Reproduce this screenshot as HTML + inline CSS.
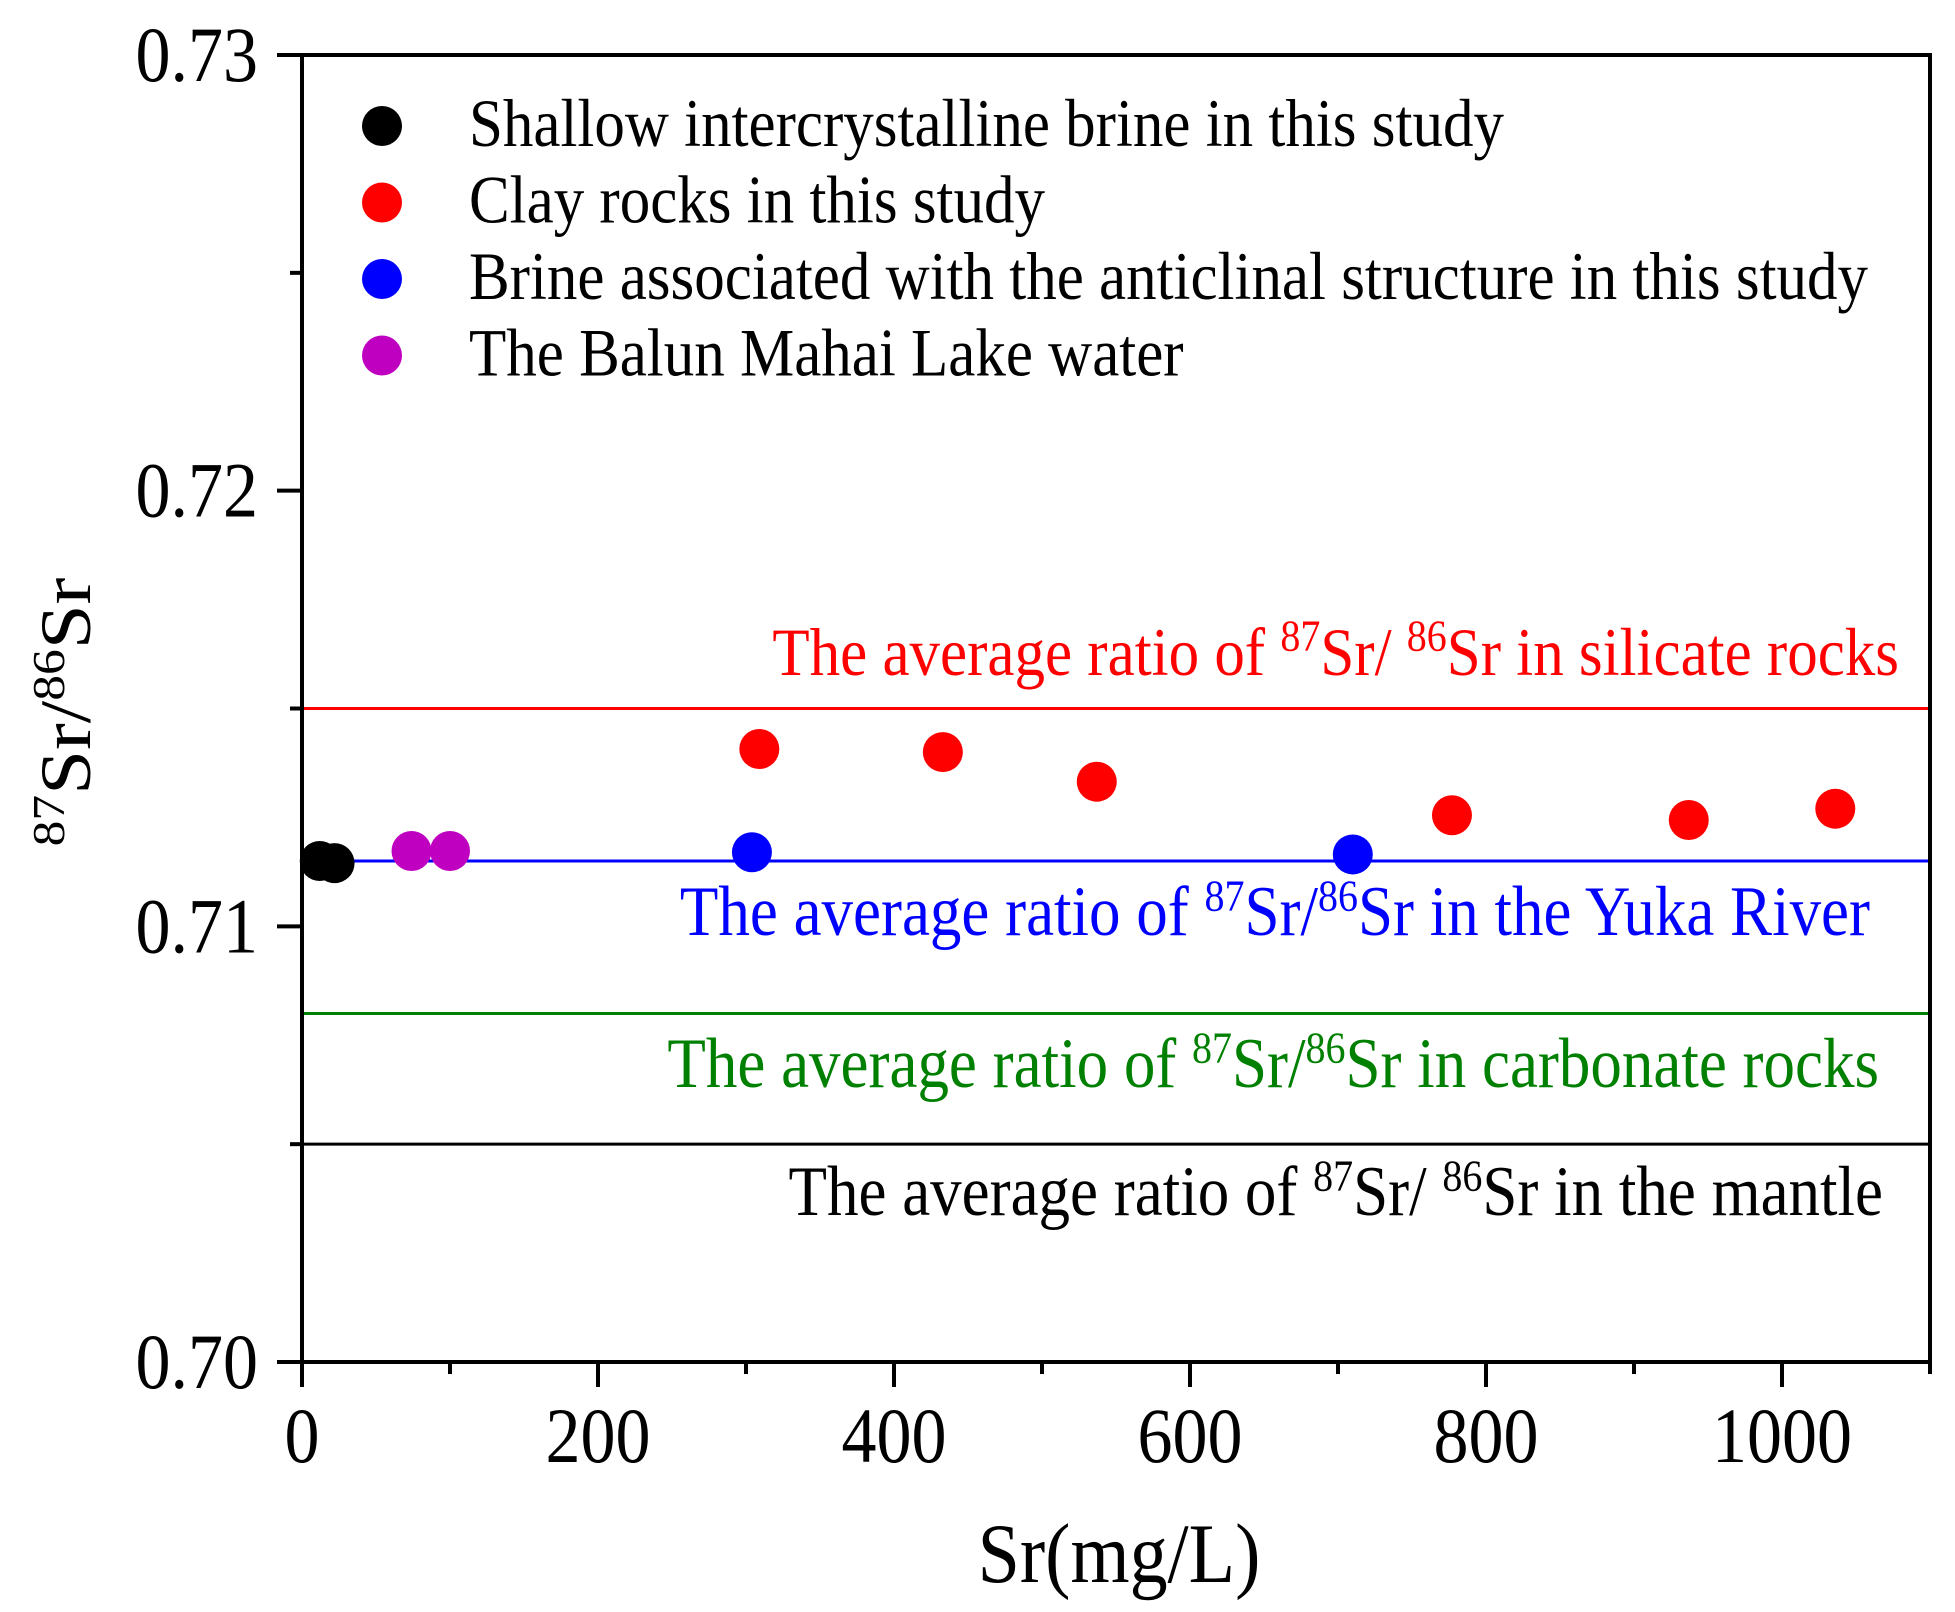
<!DOCTYPE html>
<html><head><meta charset="utf-8"><style>
body{margin:0;background:#fff}
svg{display:block;font-family:"Liberation Serif",serif}
</style></head><body>
<svg id="chart" width="1955" height="1612" viewBox="0 0 1955 1612" xmlns="http://www.w3.org/2000/svg">
<rect width="1955" height="1612" fill="#fff"/>
<g id="lines"></g>
<g id="pts"></g>
<g id="axes"></g>
<g id="legend"></g>
<text transform="translate(90,712) rotate(-90) scale(1.12,1)" text-anchor="middle" font-size="72"><tspan font-size="46" dy="-26">87</tspan><tspan dy="26">Sr/</tspan><tspan font-size="46" dy="-26">86</tspan><tspan dy="26">Sr</tspan></text>
<text transform="translate(1119,1582) scale(1,1.12)" text-anchor="middle" font-size="76">Sr(mg/L)</text>
</svg>
<script>
const blackX=[12,22], blackY=[0.71150,0.71145];
const magX=[74,100], magY=[0.71173,0.71173];
const blueX=[304,710], blueY=[0.71170,0.71165];
const redX=[309,433,537,777,937,1036], redY=[0.71407,0.71400,0.71332,0.71255,0.71244,0.71270];
const refVals=[0.715,0.7115,0.708,0.705];
const refColors=['#ff0000','#0000ff','#008000','#000000'];
const refTexts=['The average ratio of |87|Sr/ |86|Sr in silicate rocks','The average ratio of |87|Sr/|86|Sr in the Yuka River','The average ratio of |87|Sr/|86|Sr in carbonate rocks','The average ratio of |87|Sr/ |86|Sr in the mantle'];
const refTextY=[0.71577,0.70980,0.70631,0.70337];
const refTextRight=[1899,1870,1879,1883];
const xTicks=[0,200,400,600,800,1000];
const yTicks=[0.70,0.71,0.72,0.73];
const yTickLabels=['0.70','0.71','0.72','0.73'];
const legendLabels=['Shallow intercrystalline brine in this study','Clay rocks in this study','Brine associated with the anticlinal structure in this study','The Balun Mahai Lake water'];
const legendColors=['#000000','#ff0000','#0000ff','#c000c0'];

const NS='http://www.w3.org/2000/svg';
const X0=302,X1=1930,Y0=1362,Y1=55;
const SY=1.12;
const sx=v=>X0+(v/1100)*(X1-X0);
const sy=v=>Y0-(v-0.70)/0.03*(Y0-Y1);
function mk(tag,attrs,parent){const e=document.createElementNS(NS,tag);for(const k in attrs)e.setAttribute(k,attrs[k]);parent.appendChild(e);return e;}
const gL=document.getElementById('lines'),gP=document.getElementById('pts'),gA=document.getElementById('axes'),gLeg=document.getElementById('legend');
const tf=(x,y)=>'translate('+x+','+y+') scale(1,'+SY+')';
const refFont=[61,63,63,63];

refVals.forEach((v,i)=>{
  const l=mk('line',{x1:X0,x2:X1,y1:sy(v),y2:sy(v),stroke:refColors[i],'stroke-width':3},gL);
  
  
  const t=mk('text',{transform:tf(refTextRight[i],sy(refTextY[i])),'text-anchor':'end','font-size':refFont[i],fill:refColors[i]},gL);
  
  
  refTexts[i].split('|').forEach((p,j)=>{
    const s=mk('tspan',{},t);
    if(j%2==1){s.setAttribute('font-size','40');s.setAttribute('dy','-22');}
    else if(j>0){s.setAttribute('dy','22');}
    s.textContent=p;
  });
});

function series(xs,ys,color,name){
  xs.forEach((x,i)=>{
    const c=mk('circle',{cx:sx(x),cy:sy(ys[i]),r:20,fill:color},gP);
    
    
  });
}
series(blackX,blackY,'#000000','shallow-brine');
series(magX,magY,'#c000c0','lake-water');
series(blueX,blueY,'#0000ff','anticlinal-brine');
series(redX,redY,'#ff0000','clay-rock');

const frame=mk('rect',{x:X0,y:Y1,width:X1-X0,height:Y0-Y1,fill:'none',stroke:'#000','stroke-width':4},gA);


for(let v=0;v<=1100;v+=100){
  const major=xTicks.includes(v);
  mk('line',{x1:sx(v),x2:sx(v),y1:Y0,y2:Y0+(major?25:12),stroke:'#000','stroke-width':4},gA);
}
xTicks.forEach(v=>{
  const t=mk('text',{transform:tf(sx(v),1462),'text-anchor':'middle','font-size':70},gA);
  
  
  t.textContent=v;
});
for(let k=0;k<=6;k++){
  const v=0.70+k*0.005;const major=k%2==0;
  mk('line',{x1:X0-(major?25:12),x2:X0,y1:sy(v),y2:sy(v),stroke:'#000','stroke-width':4},gA);
}
yTicks.forEach((v,i)=>{
  const t=mk('text',{transform:tf(258,sy(v)+26),'text-anchor':'end','font-size':70},gA);
  
  
  t.textContent=yTickLabels[i];
});
legendLabels.forEach((s,i)=>{
  const y=126+i*76.5;
  const c=mk('circle',{cx:382,cy:y,r:20,fill:legendColors[i]},gLeg);
  
  
  const t=mk('text',{transform:tf(469,y+20),'font-size':61},gLeg);
  
  
  t.textContent=s;
});
</script>
</body></html>
